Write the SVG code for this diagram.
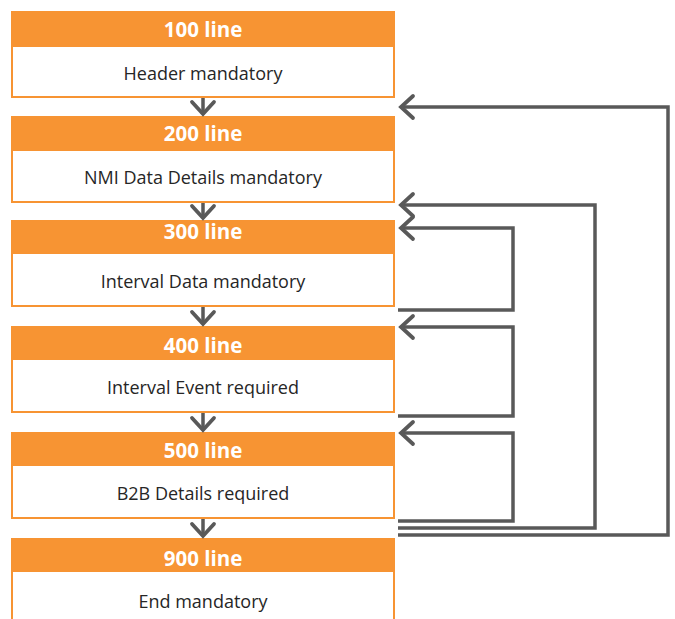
<svg xmlns="http://www.w3.org/2000/svg" width="675" height="619" viewBox="0 0 675 619">
<style>
.hd{fill:#F79433}
.bd{fill:#FFFFFF}
.ht{font-family:"Open Sans","Liberation Sans",sans-serif;font-weight:bold;font-size:20.5px;fill:#FFFFFF;text-anchor:middle}
.bt{font-family:"Open Sans","Liberation Sans",sans-serif;font-size:18px;fill:#262626;text-anchor:middle}
.cn{fill:none;stroke:#595959;stroke-width:3.5;stroke-linejoin:miter}
</style>
<defs>
<marker id="chev" viewBox="-16 -14 20 28" refX="0" refY="0" markerWidth="20" markerHeight="28" markerUnits="userSpaceOnUse" orient="auto">
<path d="M-12,-11 L0,0 L-12,11" fill="none" stroke="#595959" stroke-width="3.8" stroke-linecap="round" stroke-linejoin="miter"/>
</marker>
</defs>
<rect width="675" height="619" fill="#FFFFFF"/>
<g id="n100">
<rect class="hd" x="11" y="11" width="384" height="87"/>
<rect class="bd" x="13" y="47" width="380" height="49"/>
<text class="ht" x="203" y="37">100 line</text>
<text class="bt" x="203" y="80">Header mandatory</text>
</g>
<g id="n200">
<rect class="hd" x="11" y="116" width="384" height="87"/>
<rect class="bd" x="13" y="151" width="380" height="50"/>
<text class="ht" x="203" y="141">200 line</text>
<text class="bt" x="203" y="184">NMI Data Details mandatory</text>
</g>
<g id="n300">
<rect class="hd" x="11" y="220" width="384" height="87"/>
<rect class="bd" x="13" y="254" width="380" height="51"/>
<text class="ht" x="203" y="239">300 line</text>
<text class="bt" x="203" y="288">Interval Data mandatory</text>
</g>
<g id="n400">
<rect class="hd" x="11" y="326" width="384" height="87"/>
<rect class="bd" x="13" y="360" width="380" height="51"/>
<text class="ht" x="203" y="353">400 line</text>
<text class="bt" x="203" y="394">Interval Event required</text>
</g>
<g id="n500">
<rect class="hd" x="11" y="432" width="384" height="87"/>
<rect class="bd" x="13" y="466" width="380" height="51"/>
<text class="ht" x="203" y="458">500 line</text>
<text class="bt" x="203" y="500">B2B Details required</text>
</g>
<g id="n900">
<rect class="hd" x="11" y="538" width="384" height="90"/>
<rect class="bd" x="13" y="572" width="380" height="60"/>
<text class="ht" x="203" y="566">900 line</text>
<text class="bt" x="203" y="608">End mandatory</text>
</g>
<g id="connectors">
<path class="cn" d="M203,98 V114" marker-end="url(#chev)"/>
<path class="cn" d="M203,203 V218" marker-end="url(#chev)"/>
<path class="cn" d="M203,307 V324" marker-end="url(#chev)"/>
<path class="cn" d="M203,413 V430" marker-end="url(#chev)"/>
<path class="cn" d="M203,519 V536" marker-end="url(#chev)"/>
<path class="cn" d="M398,535 H668 V107 H401" marker-end="url(#chev)"/>
<path class="cn" d="M398,528 H595 V205 H401" marker-end="url(#chev)"/>
<path class="cn" d="M398,310 H513 V228 H401" marker-end="url(#chev)"/>
<path class="cn" d="M398,416 H513 V327 H401" marker-end="url(#chev)"/>
<path class="cn" d="M398,521 H513 V433 H401" marker-end="url(#chev)"/>
</g>
</svg>
